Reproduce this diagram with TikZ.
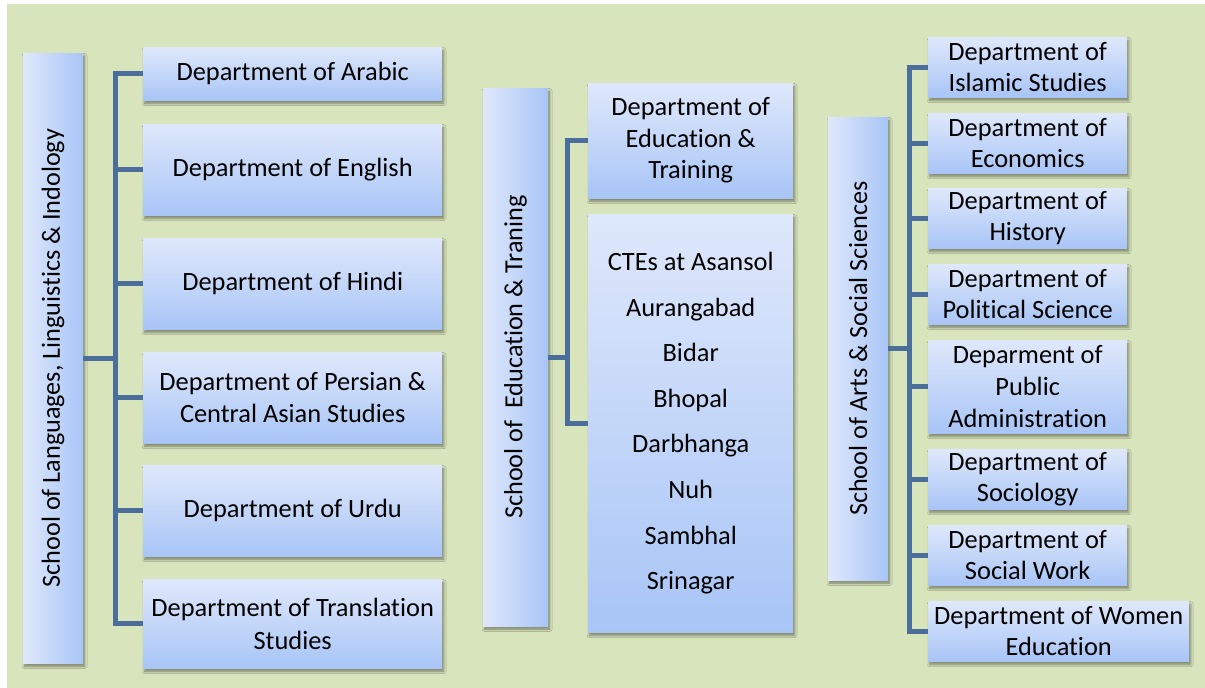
\documentclass[tikz,border=0pt]{standalone}
\usepackage{fontspec}
\setmainfont{Carlito}[Ligatures=NoCommon]
\usepackage{graphicx}
\usetikzlibrary{shadows.blur}
\definecolor{bgc}{HTML}{D8E4BC}
\definecolor{boxtop}{HTML}{DFE8FB}
\definecolor{boxbot}{HTML}{A8C5F6}
\definecolor{linec}{HTML}{4B6D99}
\tikzset{
  boxshadow/.style={blur shadow={shadow xshift=1.5pt, shadow yshift=-3pt, shadow opacity=45, shadow blur steps=6, shadow blur radius=2.5pt}},
  dept/.style={anchor=north west, inner sep=0pt, align=center, top color=boxtop, bottom color=boxbot, boxshadow, font=\fontsize{26.4}{31.5}\selectfont, text=black},
  school/.style={inner sep=0pt, left color=boxtop, right color=boxbot, boxshadow, font=\fontsize{26.2}{31.5}\selectfont, text=black},
  conn/.style={draw=linec, line width=5pt}
}
\begin{document}
\begin{tikzpicture}[x=1pt,y=-1pt]
\useasboundingbox (0,0) rectangle (1205,688);
\fill[white] (0,0) rectangle (1205,688);
\fill[bgc] (7,4) rectangle (1205,688);

% ---- left column
\coordinate (busL) at (115,0);
\node[school, minimum width=60pt, minimum height=610pt] (sL) at (53,358) {\rotatebox{90}{School of Languages, Linguistics \& Indology}};
\node[dept, minimum width=299pt, minimum height=53pt] (dAr) at (143,47) {Department of Arabic};
\node[dept, minimum width=299pt, minimum height=91pt] (dEn) at (143,124) {Department of English};
\node[dept, minimum width=299pt, minimum height=91pt] (dHi) at (143,238) {Department of Hindi};
\node[dept, minimum width=299pt, minimum height=91pt] (dPe) at (143,352) {Department of Persian \&\\Central Asian Studies};
\node[dept, minimum width=299pt, minimum height=91pt] (dUr) at (143,465) {Department of Urdu};
\node[dept, minimum width=299pt, minimum height=89pt, font=\fontsize{26.4}{33}\selectfont] (dTr) at (143,579) {Department of Translation\\Studies};
\draw[conn] (dAr.west) -- (dAr.west -| busL) -- (dTr.west -| busL) -- (dTr.west);
\foreach \n in {dEn,dHi,dPe,dUr} \draw[conn] (\n.west) -- (\n.west -| busL);
\draw[conn] (sL.east) -- (sL.east -| busL);

% ---- middle column
\coordinate (busM) at (567,0);
\node[school, minimum width=65pt, minimum height=538pt] (sE) at (515.5,357) {\rotatebox{90}{School of\ \ Education \& Traning}};
\node[dept, minimum width=205pt, minimum height=115pt] (dET) at (588,83) {Department of\\Education \&\\Training};
\node[dept, minimum width=205pt, minimum height=418pt, font=\fontsize{26.4}{45.6}\selectfont] (dCT) at (588,214) {CTEs at Asansol\\Aurangabad\\Bidar\\Bhopal\\Darbhanga\\Nuh\\Sambhal\\Srinagar};
\draw[conn] (dET.west) -- (dET.west -| busM) -- (dCT.west -| busM) -- (dCT.west);
\draw[conn] (sE.east) -- (sE.east -| busM);

% ---- right column
\coordinate (busR) at (909,0);
\node[school, minimum width=60pt, minimum height=463pt] (sA) at (858,348.5) {\rotatebox{90}{School of Arts \& Social Sciences}};
\node[dept, minimum width=199pt, minimum height=60pt] (dIs) at (928,37) {Department of\\Islamic Studies};
\node[dept, minimum width=199pt, minimum height=60pt] (dEc) at (928,113) {Department of\\Economics};
\node[dept, minimum width=199pt, minimum height=60pt] (dHs) at (928,188) {Department of\\History};
\node[dept, minimum width=199pt, minimum height=60pt] (dPo) at (928,264) {Department of\\Political Science};
\node[dept, minimum width=199pt, minimum height=93pt, font=\fontsize{26.4}{32}\selectfont] (dPA) at (928,340) {Deparment of\\Public\\Administration};
\node[dept, minimum width=199pt, minimum height=60pt] (dSo) at (928,449) {Department of\\Sociology};
\node[dept, minimum width=199pt, minimum height=60pt] (dSW) at (928,525) {Department of\\Social Work};
\node[dept, minimum width=261pt, minimum height=60pt] (dWE) at (928,601) {Department of Women\\Education};
\draw[conn] (dIs.west) -- (dIs.west -| busR) -- (dWE.west -| busR) -- (dWE.west);
\foreach \n in {dEc,dHs,dPo,dPA,dSo,dSW} \draw[conn] (\n.west) -- (\n.west -| busR);
\draw[conn] (sA.east) -- (sA.east -| busR);
\end{tikzpicture}
\end{document}
